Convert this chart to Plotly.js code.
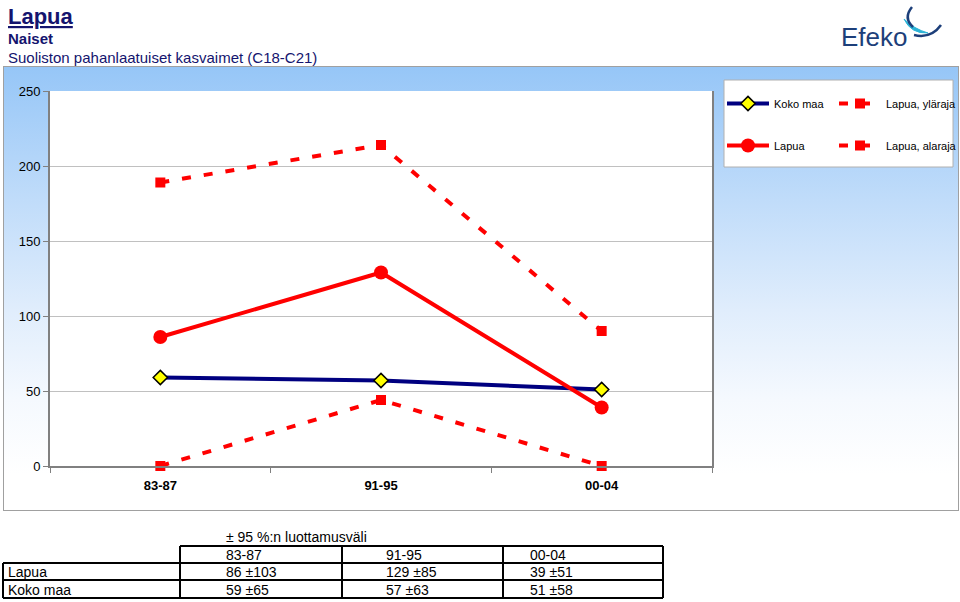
<!DOCTYPE html>
<html>
<head>
<meta charset="utf-8">
<script src="https://cdn.plot.ly/plotly-3.0.1.min.js"></script>
<style>
  html, body { margin: 0; padding: 0; background: #ffffff; }
  #wrap { position: relative; width: 960px; height: 602px; overflow: hidden; }
  #panel { position: absolute; left: 3px; top: 66px; width: 954px; height: 443px;
           border: 1px solid #a0a0a0;
           background: linear-gradient(to bottom, #96c6f7 0%, #c0dcfa 30%, #e0edfc 55%, #f5f9fe 75%, #ffffff 92%); }
  #chart { position: absolute; left: 0; top: 0; width: 960px; height: 602px; }
</style>
</head>
<body>
<div id="wrap">
  <div id="panel"></div>
  <div id="chart"></div>
</div>
<script>
// ---- data ----
const categories = ['83-87', '91-95', '00-04'];
const kokoMaa = [59, 57, 51];
const lapua = [86, 129, 39];
const lapuaUpper = [189, 214, 90];
const lapuaLower = [0, 44, 0];
const lapuaCI = [103, 85, 51];
const kokoMaaCI = [65, 63, 58];
const yTicks = [0, 50, 100, 150, 200, 250];
const seriesNames = ['Koko maa', 'Lapua', 'Lapua, yläraja', 'Lapua, alaraja'];
const tableTitle = '± 95 %:n luottamusväli';
const titleMain = 'Lapua';
const titleSub1 = 'Naiset';
const titleSub2 = 'Suoliston pahanlaatuiset kasvaimet (C18-C21)';

// ---- geometry helpers (pixel -> paper / container) ----
const W = 960, H = 602;
const L = 50, R = 712, T = 91, B = 466;
const px = v => (v - L) / (R - L);
const py = v => (B - v) / (B - T);
const cx = v => v / W;
const cy = v => 1 - v / H;
const P = (x, y) => px(x).toFixed(5) + ',' + py(y).toFixed(5);

const FONT = 'Liberation Sans, Arial, sans-serif';
const RED = '#ff0000', NAVY = '#000080', TXT = '#14146e';

const traces = [
  { x: categories, y: kokoMaa, name: seriesNames[0], type: 'scatter', mode: 'lines+markers',
    line: { color: NAVY, width: 4 },
    marker: { symbol: 'diamond', size: 11, color: '#ffff00', line: { color: '#000000', width: 1.5 } },
    legend: 'legend', legendgroup: 'a', cliponaxis: false },
  { x: categories, y: lapua, name: seriesNames[1], type: 'scatter', mode: 'lines+markers',
    line: { color: RED, width: 4 },
    marker: { symbol: 'circle', size: 14, color: RED },
    legend: 'legend', legendgroup: 'b', cliponaxis: false },
  { x: categories, y: lapuaUpper, name: seriesNames[2], type: 'scatter', mode: 'lines+markers',
    line: { color: RED, width: 4, dash: '9px,13px' },
    marker: { symbol: 'square', size: 10, color: RED },
    legend: 'legend2', legendgroup: 'c', cliponaxis: false },
  { x: categories, y: lapuaLower, name: seriesNames[3], type: 'scatter', mode: 'lines+markers',
    line: { color: RED, width: 4, dash: '9px,13px' },
    marker: { symbol: 'square', size: 10, color: RED },
    legend: 'legend2', legendgroup: 'd', cliponaxis: false }
];

const shapes = [];
const annotations = [];
function hline(y, x0, x1) { shapes.push({ type: 'line', xref: 'paper', yref: 'paper', x0: px(x0), x1: px(x1), y0: py(y), y1: py(y), line: { color: '#000', width: 2 } }); }
function vline(x, y0, y1) { shapes.push({ type: 'line', xref: 'paper', yref: 'paper', x0: px(x), x1: px(x), y0: py(y0), y1: py(y1), line: { color: '#000', width: 2 } }); }
function txt(text, x, y, size, opts) {
  annotations.push(Object.assign({ text: text, xref: 'paper', yref: 'paper', x: px(x), y: py(y),
    xanchor: 'left', yanchor: 'middle', showarrow: false,
    font: { family: FONT, size: size, color: '#000' } }, opts || {}));
}

// legend box
shapes.push({ type: 'rect', xref: 'paper', yref: 'paper', x0: px(724), x1: px(953), y0: py(167), y1: py(80),
  fillcolor: '#ffffff', line: { color: '#b0b0b0', width: 1 }, layer: 'below' });

// titles
txt('<b><u>' + titleMain + '</u></b>', 6, 16, 22, { font: { family: FONT, size: 22, color: TXT } });
txt('<b>' + titleSub1 + '</b>', 6, 38, 15, { font: { family: FONT, size: 15, color: TXT } });
txt(titleSub2, 6, 57, 15, { font: { family: FONT, size: 15, color: TXT } });

// logo
txt('Efeko', 839, 37, 26, { font: { family: FONT, size: 26, color: '#1d3f7a' } });
shapes.push({ type: 'path', xref: 'paper', yref: 'paper', path: 'M' + P(904, 19) + ' Q' + P(911, 34) + ' ' + P(928, 33) + ' Q' + P(914, 29) + ' ' + P(904, 19) + ' Z',
  fillcolor: '#2bb3d6', line: { color: '#2bb3d6', width: 1 } });
shapes.push({ type: 'path', xref: 'paper', yref: 'paper', path: 'M' + P(912, 7) + ' Q' + P(903, 18) + ' ' + P(913, 27),
  line: { color: '#1d3f7a', width: 2.5 } });
shapes.push({ type: 'path', xref: 'paper', yref: 'paper', path: 'M' + P(914, 35) + ' Q' + P(931, 39) + ' ' + P(941, 25),
  line: { color: '#1d3f7a', width: 2.5 } });

// table
const colX = [224, 384, 528];
txt(tableTitle, 224, 537, 14);
hline(546, 180, 663);
hline(563, 3, 663);
hline(580, 3, 663);
hline(598, 3, 663);
vline(3, 563, 598);
[180, 342, 503, 663].forEach(x => vline(x, 546, 598));
categories.forEach((c, i) => txt(c, colX[i], 555, 14));
txt(seriesNames[1], 6, 572, 14);
txt(seriesNames[0], 6, 590, 14);
categories.forEach((c, i) => {
  txt(lapua[i] + ' ±' + lapuaCI[i], colX[i], 572, 14);
  txt(kokoMaa[i] + ' ±' + kokoMaaCI[i], colX[i], 590, 14);
});

const legendCommon = {
  xref: 'container', yref: 'container', yanchor: 'top',
  bgcolor: 'rgba(0,0,0,0)', borderwidth: 0,
  font: { family: FONT, size: 11, color: '#000' },
  itemwidth: 42, traceorder: 'grouped', tracegroupgap: 23, itemsizing: 'trace'
};

const layout = {
  width: W, height: H,
  margin: { l: L, r: W - R, t: T, b: H - B, pad: 0 },
  paper_bgcolor: 'rgba(0,0,0,0)',
  plot_bgcolor: '#ffffff',
  font: { family: FONT, color: '#000' },
  showlegend: true,
  xaxis: {
    type: 'category', range: [-0.5, 2.5], showgrid: false, zeroline: false,
    showline: true, linecolor: '#808080', linewidth: 2,
    ticks: 'outside', tickson: 'boundaries', ticklen: 5, tickcolor: '#808080',
    tickfont: { family: FONT, size: 13, color: '#000', weight: 'bold' },
    ticklabelstandoff: 6
  },
  yaxis: {
    range: [0, 250], tickvals: yTicks, ticktext: yTicks.map(String),
    showgrid: true, gridcolor: '#c0c0c0', gridwidth: 1, zeroline: false,
    showline: true, mirror: true, linecolor: '#808080', linewidth: 2,
    ticks: 'outside', ticklen: 5, tickcolor: '#808080',
    tickfont: { family: FONT, size: 13, color: '#000' }
  },
  legend: Object.assign({}, legendCommon, { x: cx(722), xanchor: 'left', y: cy(89) }),
  legend2: Object.assign({}, legendCommon, { x: cx(834), xanchor: 'left', y: cy(89) }),
  shapes: shapes,
  annotations: annotations
};

Plotly.newPlot('chart', traces, layout, { staticPlot: true, displayModeBar: false });
</script>
</body>
</html>
